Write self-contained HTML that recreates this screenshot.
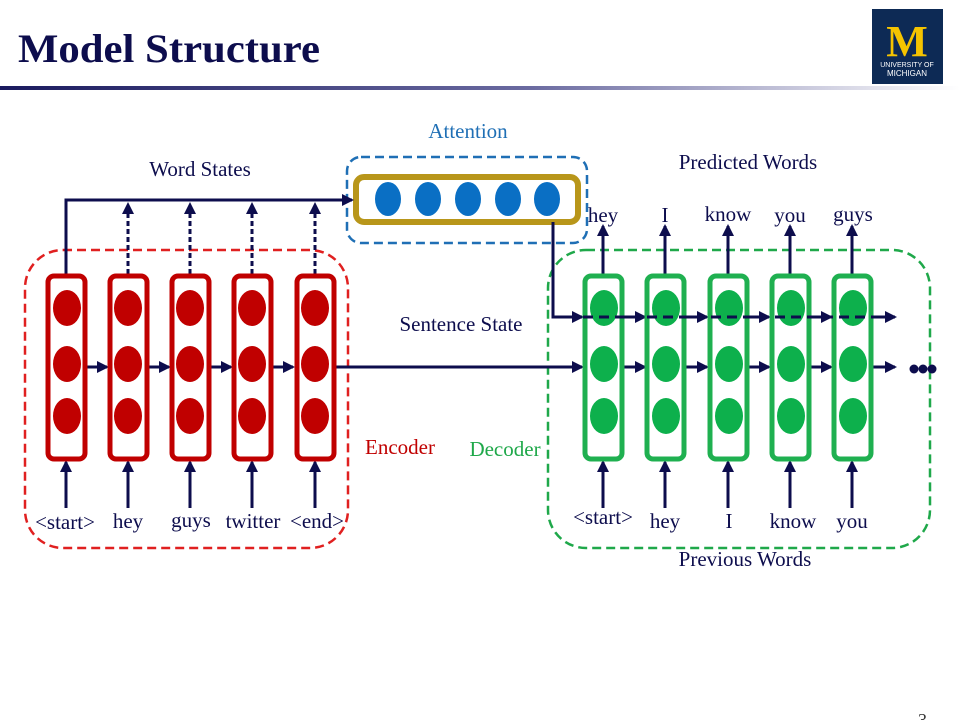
<!DOCTYPE html>
<html><head><style>
body{margin:0;width:960px;height:720px;background:#fff;overflow:hidden;font-family:"Liberation Serif",serif;}
</style></head><body>
<svg width="960" height="720" xmlns="http://www.w3.org/2000/svg" font-family="Liberation Serif, serif">
<defs>
<linearGradient id="g" x1="0" x2="1"><stop offset="0" stop-color="#1a1a5e"/><stop offset="0.55" stop-color="#6a6aa0"/><stop offset="1" stop-color="#fff"/></linearGradient>
<marker id="b" markerWidth="12" markerHeight="12" refX="10" refY="6" orient="auto" markerUnits="userSpaceOnUse"><path d="M0,0 L12,6 L0,12z" fill="#0d0d4d"/></marker>
</defs>
<text x="18" y="62" font-size="40" font-weight="bold" fill="#0d0d4d" textLength="302" lengthAdjust="spacingAndGlyphs">Model Structure</text>
<rect x="0" y="86" width="960" height="4" fill="url(#g)"/>
<rect x="872" y="9" width="71" height="75" fill="#0d2a55"/>
<text x="907" y="56" font-size="44" font-weight="bold" fill="#f5c400" text-anchor="middle" font-family="Liberation Serif, serif">M</text>
<text x="907" y="67" font-size="7" fill="#fff" text-anchor="middle" font-family="Liberation Sans, sans-serif">UNIVERSITY OF</text>
<text x="907" y="76" font-size="8" fill="#fff" text-anchor="middle" font-family="Liberation Sans, sans-serif">MICHIGAN</text>

<g font-size="21" fill="#0d0d4d" text-anchor="middle">
<text x="200" y="176">Word States</text>
<text x="748" y="169">Predicted Words</text>
<text x="461" y="331">Sentence State</text>
<text x="745" y="566">Previous Words</text>
</g>
<text x="468" y="138" font-size="21" fill="#1f6fb5" text-anchor="middle">Attention</text>
<text x="400" y="454" font-size="21" fill="#c00000" text-anchor="middle">Encoder</text>
<text x="505" y="456" font-size="21" fill="#1fa84a" text-anchor="middle">Decoder</text>

<rect x="25" y="250" width="323" height="298" rx="38" fill="none" stroke="#e02020" stroke-width="2.5" stroke-dasharray="9,5"/>
<rect x="548" y="250" width="382" height="298" rx="38" fill="none" stroke="#1fa84a" stroke-width="2.5" stroke-dasharray="9,5"/>
<rect x="347" y="157" width="240" height="86" rx="14" fill="none" stroke="#1f6fb5" stroke-width="2.5" stroke-dasharray="9,5"/>
<rect x="356" y="177" width="222" height="45" rx="8" fill="none" stroke="#b8961a" stroke-width="6"/>
<g fill="#0a6fc4">
<ellipse cx="388" cy="199" rx="13" ry="17"/><ellipse cx="428" cy="199" rx="13" ry="17"/><ellipse cx="468" cy="199" rx="13" ry="17"/><ellipse cx="508" cy="199" rx="13" ry="17"/><ellipse cx="547" cy="199" rx="13" ry="17"/>
</g>

<g stroke="#0d0d4d" stroke-width="3" fill="none">
<path d="M66,274 V200 H352" marker-end="url(#b)"/>
<path d="M128,274 V204" stroke-dasharray="5,3" marker-end="url(#b)"/>
<path d="M190,274 V204" stroke-dasharray="5,3" marker-end="url(#b)"/>
<path d="M252,274 V204" stroke-dasharray="5,3" marker-end="url(#b)"/>
<path d="M315,274 V204" stroke-dasharray="5,3" marker-end="url(#b)"/>
<path d="M86,367 H107" marker-end="url(#b)"/>
<path d="M148,367 H169" marker-end="url(#b)"/>
<path d="M210,367 H231" marker-end="url(#b)"/>
<path d="M272,367 H293" marker-end="url(#b)"/>
<path d="M334,367 H582" marker-end="url(#b)"/>
<path d="M553,222 V317 H582" marker-end="url(#b)"/>
<path d="M623,317 H645" marker-end="url(#b)"/>
<path d="M685,317 H707" marker-end="url(#b)"/>
<path d="M747,317 H769" marker-end="url(#b)"/>
<path d="M809,317 H831" marker-end="url(#b)"/>
<path d="M871,317 H895" marker-end="url(#b)"/>
<path d="M623,367 H645" marker-end="url(#b)"/>
<path d="M685,367 H707" marker-end="url(#b)"/>
<path d="M747,367 H769" marker-end="url(#b)"/>
<path d="M809,367 H831" marker-end="url(#b)"/>
<path d="M871,367 H895" marker-end="url(#b)"/>
<path d="M66,508 V462" marker-end="url(#b)"/><path d="M128,508 V462" marker-end="url(#b)"/><path d="M190,508 V462" marker-end="url(#b)"/><path d="M252,508 V462" marker-end="url(#b)"/><path d="M315,508 V462" marker-end="url(#b)"/>
<path d="M603,508 V462" marker-end="url(#b)"/><path d="M665,508 V462" marker-end="url(#b)"/><path d="M728,508 V462" marker-end="url(#b)"/><path d="M790,508 V462" marker-end="url(#b)"/><path d="M852,508 V462" marker-end="url(#b)"/>
<path d="M603,274 V226" marker-end="url(#b)"/><path d="M665,274 V226" marker-end="url(#b)"/><path d="M728,274 V226" marker-end="url(#b)"/><path d="M790,274 V226" marker-end="url(#b)"/><path d="M852,274 V226" marker-end="url(#b)"/>
</g>
<g fill="#0d0d4d"><circle cx="914" cy="369" r="4.5"/><circle cx="923" cy="369" r="4.5"/><circle cx="932" cy="369" r="4.5"/></g>

<g stroke="#c00000" stroke-width="5" fill="none">
<rect x="48" y="276" width="37" height="183" rx="6"/>
<rect x="110" y="276" width="37" height="183" rx="6"/>
<rect x="172" y="276" width="37" height="183" rx="6"/>
<rect x="234" y="276" width="37" height="183" rx="6"/>
<rect x="297" y="276" width="37" height="183" rx="6"/>
</g>
<g fill="#c00000">
<ellipse cx="67" cy="308" rx="14" ry="18"/><ellipse cx="67" cy="364" rx="14" ry="18"/><ellipse cx="67" cy="416" rx="14" ry="18"/>
<ellipse cx="128" cy="308" rx="14" ry="18"/><ellipse cx="128" cy="364" rx="14" ry="18"/><ellipse cx="128" cy="416" rx="14" ry="18"/>
<ellipse cx="190" cy="308" rx="14" ry="18"/><ellipse cx="190" cy="364" rx="14" ry="18"/><ellipse cx="190" cy="416" rx="14" ry="18"/>
<ellipse cx="252" cy="308" rx="14" ry="18"/><ellipse cx="252" cy="364" rx="14" ry="18"/><ellipse cx="252" cy="416" rx="14" ry="18"/>
<ellipse cx="315" cy="308" rx="14" ry="18"/><ellipse cx="315" cy="364" rx="14" ry="18"/><ellipse cx="315" cy="416" rx="14" ry="18"/>
</g>
<g stroke="#1fb050" stroke-width="5" fill="none">
<rect x="585" y="276" width="37" height="183" rx="6"/>
<rect x="647" y="276" width="37" height="183" rx="6"/>
<rect x="710" y="276" width="37" height="183" rx="6"/>
<rect x="772" y="276" width="37" height="183" rx="6"/>
<rect x="834" y="276" width="37" height="183" rx="6"/>
</g>
<g fill="#0db04c">
<ellipse cx="604" cy="308" rx="14" ry="18"/><ellipse cx="604" cy="364" rx="14" ry="18"/><ellipse cx="604" cy="416" rx="14" ry="18"/>
<ellipse cx="666" cy="308" rx="14" ry="18"/><ellipse cx="666" cy="364" rx="14" ry="18"/><ellipse cx="666" cy="416" rx="14" ry="18"/>
<ellipse cx="729" cy="308" rx="14" ry="18"/><ellipse cx="729" cy="364" rx="14" ry="18"/><ellipse cx="729" cy="416" rx="14" ry="18"/>
<ellipse cx="791" cy="308" rx="14" ry="18"/><ellipse cx="791" cy="364" rx="14" ry="18"/><ellipse cx="791" cy="416" rx="14" ry="18"/>
<ellipse cx="853" cy="308" rx="14" ry="18"/><ellipse cx="853" cy="364" rx="14" ry="18"/><ellipse cx="853" cy="416" rx="14" ry="18"/>
</g>
<path d="M583,317 H890" stroke="#0d0d4d" stroke-width="3" stroke-dasharray="10,6" fill="none"/>

<g font-size="21" fill="#0d0d4d" text-anchor="middle">
<text x="65" y="529">&lt;start&gt;</text>
<text x="128" y="528">hey</text>
<text x="191" y="527">guys</text>
<text x="253" y="528">twitter</text>
<text x="317" y="528">&lt;end&gt;</text>
<text x="603" y="524">&lt;start&gt;</text>
<text x="665" y="528">hey</text>
<text x="729" y="528">I</text>
<text x="793" y="528">know</text>
<text x="852" y="528">you</text>
<text x="603" y="222">hey</text>
<text x="665" y="222">I</text>
<text x="728" y="221">know</text>
<text x="790" y="222">you</text>
<text x="853" y="221">guys</text>
</g>
<text x="918" y="726" font-size="18" fill="#333">3</text>
</svg>
</body></html>
